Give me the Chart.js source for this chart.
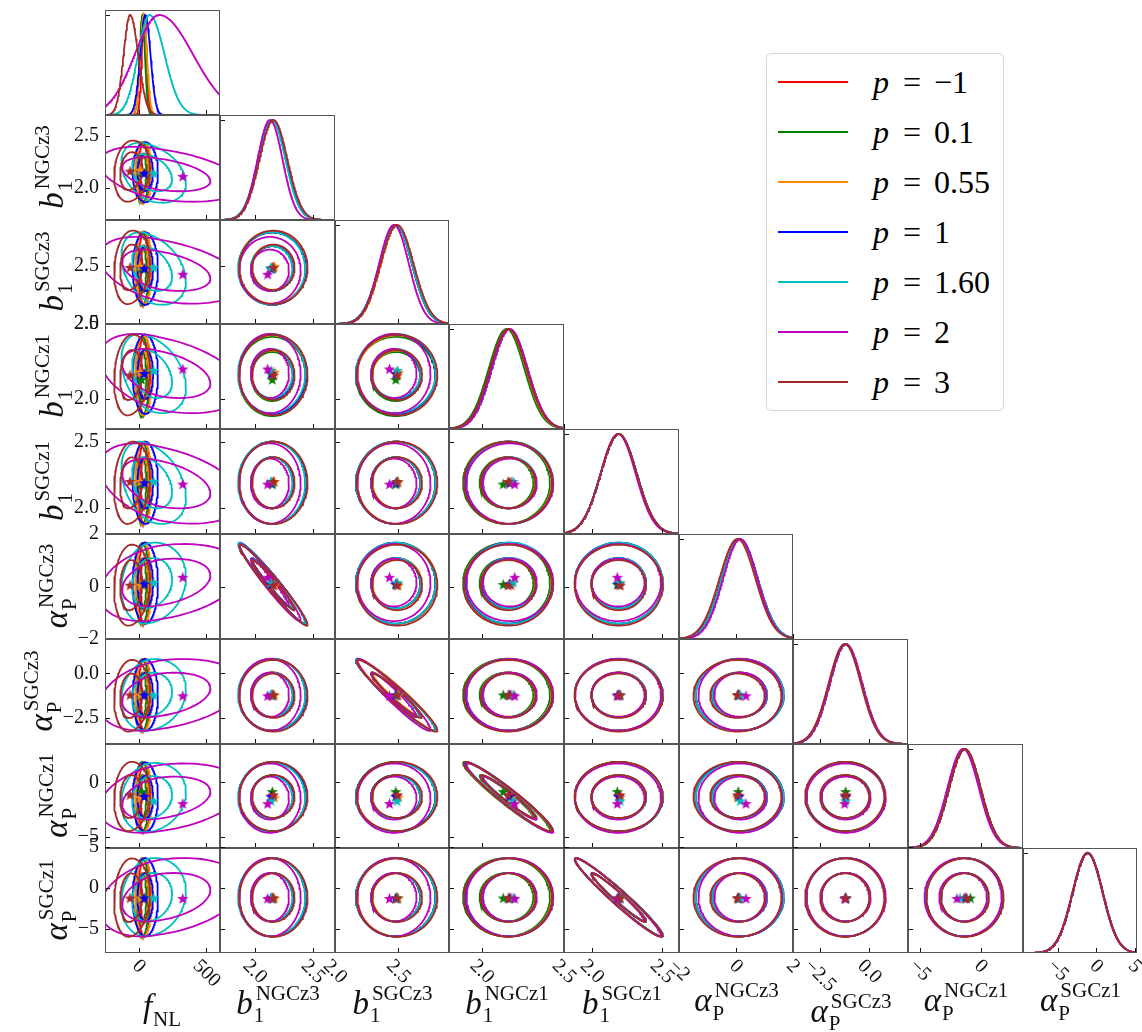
<!DOCTYPE html>
<html>
<head>
<meta charset="utf-8">
<script src="https://cdn.jsdelivr.net/npm/chart.js@4.4.0/dist/chart.umd.min.js"></script>
<style>
  body { margin: 0; background: #fff; }
  #wrap { position: relative; width: 1142px; height: 1032px; overflow: hidden; }
  #wrap canvas { position: absolute; }
  #legend { position: absolute; left: 766px; top: 53px; width: 238px; height: 358px;
            border: 1px solid #d6d6d6; border-radius: 5px; box-sizing: border-box;
            font-family: "Liberation Serif", serif; font-size: 32px; color: #000; }
  .lg-row { position: absolute; left: 0; height: 40px; width: 236px; }
  .lg-line { position: absolute; left: 11px; width: 70px; top: 19px; height: 0; border-top: 2px solid; }
  .lg-text { position: absolute; left: 106px; top: 0; line-height: 40px; white-space: nowrap; }
  .lg-text span.eq { margin: 0 13px 0 14px; }
</style>
</head>
<body>
<div id="wrap"><div id="legend"></div></div>
<script>
// parameters (columns / rows of the triangle)
const paramNames = ['fNL', 'b1NGCz3', 'b1SGCz3', 'b1NGCz1', 'b1SGCz1', 'aPNGCz3', 'aPSGCz3', 'aPNGCz1', 'aPSGCz1'];
const axisTitles = [
  { base: 'f', sub: 'NL' },
  { base: 'b', sub: '1', sup: 'NGCz3' },
  { base: 'b', sub: '1', sup: 'SGCz3' },
  { base: 'b', sub: '1', sup: 'NGCz1' },
  { base: 'b', sub: '1', sup: 'SGCz1' },
  { base: 'α', sub: 'P', sup: 'NGCz3' },
  { base: 'α', sub: 'P', sup: 'SGCz3' },
  { base: 'α', sub: 'P', sup: 'NGCz1' },
  { base: 'α', sub: 'P', sup: 'SGCz1' }
];

// axis limits
const xRange = [[-250, 600], [1.70, 2.69], [2.0, 2.9], [1.8, 2.5], [1.8, 2.62], [-2, 2], [-3.87, 1.96], [-6.0, 3.5], [-9.5, 5.3]];
const yRange = [[0, 1.05], [1.69, 2.70], [2.0, 2.9], [1.8, 2.5], [1.8, 2.6], [-2, 2], [-3.95, 1.93], [-6.03, 3.52], [-7.9, 4.9]];
const tickVals = [[0, 500], [2.0, 2.5], [2.0, 2.5], [2.0, 2.5], [2.0, 2.5], [-2, 0, 2], [-2.5, 0], [-5, 0], [-5, 0, 5]];
const tickText = [['0', '500'], ['2.0', '2.5'], ['2.0', '2.5'], ['2.0', '2.5'], ['2.0', '2.5'], ['−2', '0', '2'], ['−2.5', '0.0'], ['−5', '0'], ['−5', '0', '5']];

// series
const seriesLabels = ['−1', '0.1', '0.55', '1', '1.60', '2', '3'];
const seriesColors = ['#ff0000', '#008000', '#ff8c00', '#0000ff', '#00bfbf', '#bf00bf', '#a52a2a'];

// posterior peaks, one row per series, one column per parameter
const modes = [
  [40, 2.150, 2.480, 2.160, 2.190, 0.12, -1.18, -1.35, -1.10],
  [25, 2.150, 2.480, 2.150, 2.190, 0.12, -1.20, -1.30, -1.10],
  [35, 2.150, 2.490, 2.160, 2.190, 0.12, -1.20, -1.35, -1.10],
  [48, 2.150, 2.480, 2.165, 2.190, 0.13, -1.20, -1.35, -1.10],
  [79, 2.145, 2.480, 2.170, 2.190, 0.13, -1.20, -1.40, -1.10],
  [150, 2.130, 2.465, 2.170, 2.185, 0.15, -1.20, -1.45, -1.10],
  [-65, 2.160, 2.490, 2.160, 2.190, 0.05, -1.25, -1.30, -1.15]
];
// widths below / above the peak
const sigLo = [
  [18, 0.118, 0.128, 0.108, 0.128, 0.63, 0.82, 1.30, 1.95],
  [20, 0.118, 0.128, 0.108, 0.128, 0.63, 0.82, 1.30, 1.95],
  [25, 0.118, 0.128, 0.108, 0.128, 0.63, 0.82, 1.30, 1.95],
  [38, 0.118, 0.128, 0.108, 0.128, 0.63, 0.82, 1.30, 1.95],
  [85, 0.118, 0.128, 0.108, 0.128, 0.63, 0.82, 1.30, 1.95],
  [180, 0.108, 0.118, 0.108, 0.125, 0.60, 0.82, 1.30, 1.95],
  [48, 0.120, 0.130, 0.110, 0.128, 0.63, 0.82, 1.30, 1.95]
];
const sigHi = [
  [18, 0.118, 0.128, 0.108, 0.128, 0.63, 0.82, 1.30, 1.95],
  [20, 0.118, 0.128, 0.108, 0.128, 0.63, 0.82, 1.30, 1.95],
  [25, 0.118, 0.128, 0.108, 0.128, 0.63, 0.82, 1.30, 1.95],
  [38, 0.118, 0.128, 0.108, 0.128, 0.63, 0.82, 1.30, 1.95],
  [110, 0.118, 0.128, 0.108, 0.128, 0.63, 0.82, 1.30, 1.95],
  [250, 0.108, 0.118, 0.108, 0.125, 0.60, 0.82, 1.30, 1.95],
  [60, 0.120, 0.130, 0.110, 0.128, 0.63, 0.82, 1.30, 1.95]
];
// best fit points (stars)
const bestFit = [
  [30, 2.15, 2.49, 2.17, 2.19, 0.10, -1.20, -1.20, -1.20],
  [20, 2.15, 2.48, 2.13, 2.18, 0.08, -1.20, -0.85, -1.20],
  [10, 2.17, 2.50, 2.18, 2.20, 0.05, -1.20, -1.40, -1.20],
  [40, 2.14, 2.48, 2.17, 2.19, 0.10, -1.20, -1.30, -1.20],
  [110, 2.14, 2.49, 2.19, 2.20, 0.15, -1.20, -1.70, -1.20],
  [325, 2.11, 2.43, 2.20, 2.18, 0.35, -1.25, -1.95, -1.25],
  [-65, 2.16, 2.49, 2.16, 2.20, 0.05, -1.20, -1.15, -1.20]
];
// correlations
const biasAlphaPairs = [[1, 5], [2, 6], [3, 7], [4, 8]];
const biasAlphaRho = [-0.97, -0.96, -0.96, -0.97];
const fnlBiasRho = [0, 0, 0, 0, -0.35, -0.4, 0.15];
const fnlAlphaRho = [0, 0, 0, 0, 0.15, 0.3, 0.1];

const levels = [1.515, 2.448]; // 68% and 95% for 2D gaussians

function rho(s, a, b) {
  if (a === 0) return b <= 4 ? fnlBiasRho[s] : fnlAlphaRho[s];
  for (let k = 0; k < biasAlphaPairs.length; k++) {
    if (biasAlphaPairs[k][0] === a && biasAlphaPairs[k][1] === b) return biasAlphaRho[k];
  }
  return 0;
}

function contour(s, jx, iy, k) {
  const r = rho(s, jx, iy);
  const pts = [];
  for (let n = 0; n <= 120; n++) {
    const t = 2 * Math.PI * n / 120;
    const c = Math.cos(t), sn = Math.sin(t);
    const sx = c < 0 ? sigLo[s][jx] : sigHi[s][jx];
    const u = r * c + Math.sqrt(1 - r * r) * sn;
    const sy = u < 0 ? sigLo[s][iy] : sigHi[s][iy];
    pts.push({ x: modes[s][jx] + k * sx * c, y: modes[s][iy] + k * sy * u });
  }
  return pts;
}

function marginal(s, j) {
  const [lo, hi] = xRange[j];
  const pts = [];
  for (let n = 0; n <= 200; n++) {
    const x = lo + (hi - lo) * n / 200;
    const d = x - modes[s][j];
    const sg = d < 0 ? sigLo[s][j] : sigHi[s][j];
    pts.push({ x: x, y: Math.exp(-d * d / (2 * sg * sg)) });
  }
  return pts;
}

function starImage(color) {
  const c = document.createElement('canvas');
  c.width = 13; c.height = 13;
  const g = c.getContext('2d');
  g.beginPath();
  for (let n = 0; n < 10; n++) {
    const r = n % 2 === 0 ? 6 : 2.5;
    const a = -Math.PI / 2 + n * Math.PI / 5;
    const px = 6.5 + r * Math.cos(a), py = 7 + r * Math.sin(a);
    if (n === 0) g.moveTo(px, py); else g.lineTo(px, py);
  }
  g.closePath();
  g.fillStyle = color;
  g.fill();
  return c;
}
const stars = seriesColors.map(starImage);

const FONT = '"Liberation Serif", serif';
function drawMath(ctx, spec, cx, by, B, S) {
  const fb = 'italic ' + B + 'px ' + FONT, fs = S + 'px ' + FONT;
  ctx.font = fb;
  const wb = ctx.measureText(spec.base).width;
  ctx.font = fs;
  const wsub = spec.sub ? ctx.measureText(spec.sub).width : 0;
  const wsup = spec.sup ? ctx.measureText(spec.sup).width : 0;
  const tot = wb + 2 + Math.max(wsub, wsup);
  const x0 = cx - tot / 2;
  ctx.textAlign = 'left';
  ctx.textBaseline = 'alphabetic';
  ctx.font = fb;
  ctx.fillText(spec.base, x0, by);
  ctx.font = fs;
  if (spec.sub) ctx.fillText(spec.sub, x0 + wb + 1, by + 0.27 * B);
  if (spec.sup) ctx.fillText(spec.sup, x0 + wb + 3, by - 0.42 * B);
}

const panelDecor = {
  id: 'panelDecor',
  afterDraw(chart, args, opts) {
    const { ctx, chartArea: a } = chart;
    const xs = chart.scales.x, ys = chart.scales.y;
    const row = opts.row, col = opts.col;
    ctx.save();
    ctx.strokeStyle = '#111';
    ctx.lineWidth = 1;
    // bottom ticks, pointing in
    tickVals[col].forEach(v => {
      const px = Math.round(xs.getPixelForValue(v)) + 0.5;
      if (px < a.left - 1 || px > a.right + 1) return;
      ctx.beginPath(); ctx.moveTo(px, a.bottom); ctx.lineTo(px, a.bottom - 5); ctx.stroke();
    });
    // left ticks
    const yt = row === col ? [1] : tickVals[row];
    yt.forEach(v => {
      const py = Math.round(ys.getPixelForValue(v)) + 0.5;
      if (py < a.top - 1 || py > a.bottom + 1) return;
      ctx.beginPath(); ctx.moveTo(a.left, py); ctx.lineTo(a.left + 5, py); ctx.stroke();
    });
    // frame
    ctx.strokeStyle = '#555';
    ctx.strokeRect(a.left + 0.5, a.top + 0.5, a.right - a.left - 1, a.bottom - a.top - 1);
    ctx.fillStyle = '#111';
    // y tick labels and title
    if (col === 0 && row > 0) {
      ctx.font = '20px ' + FONT;
      ctx.textAlign = 'right';
      ctx.textBaseline = 'middle';
      let wmax = 0;
      tickVals[row].forEach((v, k) => {
        const py = ys.getPixelForValue(v);
        ctx.fillText(tickText[row][k], a.left - 6, py);
        wmax = Math.max(wmax, ctx.measureText(tickText[row][k]).width);
      });
      ctx.save();
      ctx.translate(a.left - 6 - wmax - 11, (a.top + a.bottom) / 2);
      ctx.rotate(-Math.PI / 2);
      drawMath(ctx, axisTitles[row], 0, 0, 33, 21);
      ctx.restore();
    }
    // x tick labels (turned 45 deg clockwise) and title
    if (row === 8) {
      ctx.font = '20px ' + FONT;
      ctx.textAlign = 'center';
      ctx.textBaseline = 'middle';
      let bmax = 0;
      tickVals[col].forEach((v, k) => {
        const px = xs.getPixelForValue(v);
        const w = ctx.measureText(tickText[col][k]).width;
        const half = (w + 14) / (2 * Math.SQRT2);
        bmax = Math.max(bmax, 2 * half);
        ctx.save();
        ctx.translate(px, a.bottom + 5 + half);
        ctx.rotate(Math.PI / 4);
        ctx.fillText(tickText[col][k], 0, 0);
        ctx.restore();
      });
      drawMath(ctx, axisTitles[col], (a.left + a.right) / 2, a.bottom + 5 + bmax + 28, 33, 21);
    }
    ctx.restore();
  }
};

const wrap = document.getElementById('wrap');
const colX = [], rowY = [];
for (let k = 0; k <= 9; k++) {
  colX.push(Math.round(105.3 + 114.65 * k));
  rowY.push(Math.round(10 + 104.8 * k));
}

for (let i = 0; i < paramNames.length; i++) {
  for (let j = 0; j <= i; j++) {
    const mL = j === 0 ? 105 : 14, mR = i === 8 ? 40 : 14, mT = 14, mB = i === 8 ? 80 : 14;
    const W = colX[j + 1] - colX[j], H = rowY[i + 1] - rowY[i];
    const cv = document.createElement('canvas');
    cv.width = W + mL + mR;
    cv.height = H + mT + mB;
    cv.style.left = (colX[j] - mL) + 'px';
    cv.style.top = (rowY[i] - mT) + 'px';
    wrap.insertBefore(cv, document.getElementById('legend'));

    const datasets = [];
    seriesColors.forEach((color, s) => {
      if (i === j) {
        datasets.push({ data: marginal(s, j), showLine: true, borderColor: color, borderWidth: 1.8,
                        pointRadius: 0, fill: false, order: 10 + (6 - s) });
      } else {
        levels.forEach(k => {
          datasets.push({ data: contour(s, j, i, k), showLine: true, borderColor: color, borderWidth: 1.8,
                          pointRadius: 0, fill: false, order: 10 + (6 - s) });
        });
        datasets.push({ data: [{ x: bestFit[s][j], y: bestFit[s][i] }], showLine: false,
                        pointStyle: stars[s], pointRadius: 6, order: 6 - s });
      }
    });

    new Chart(cv, {
      type: 'scatter',
      data: { datasets },
      options: {
        responsive: false,
        animation: false,
        devicePixelRatio: 1,
        events: [],
        layout: { padding: { left: mL, right: mR, top: mT, bottom: mB } },
        plugins: { legend: { display: false }, tooltip: { enabled: false }, panelDecor: { row: i, col: j } },
        scales: {
          x: { type: 'linear', display: false, min: xRange[j][0], max: xRange[j][1] },
          y: { type: 'linear', display: false, min: (i === j ? yRange[0] : yRange[i])[0], max: (i === j ? yRange[0] : yRange[i])[1] }
        }
      },
      plugins: [panelDecor]
    });
  }
}

// legend
const legend = document.getElementById('legend');
seriesLabels.forEach((lab, s) => {
  const r = document.createElement('div');
  r.className = 'lg-row';
  r.style.top = (8 + 50 * s) + 'px';
  r.innerHTML = '<div class="lg-line" style="border-color:' + seriesColors[s] + '"></div>' +
                '<div class="lg-text"><i>p</i><span class="eq">=</span>' + lab + '</div>';
  legend.appendChild(r);
});
</script>
</body>
</html>
